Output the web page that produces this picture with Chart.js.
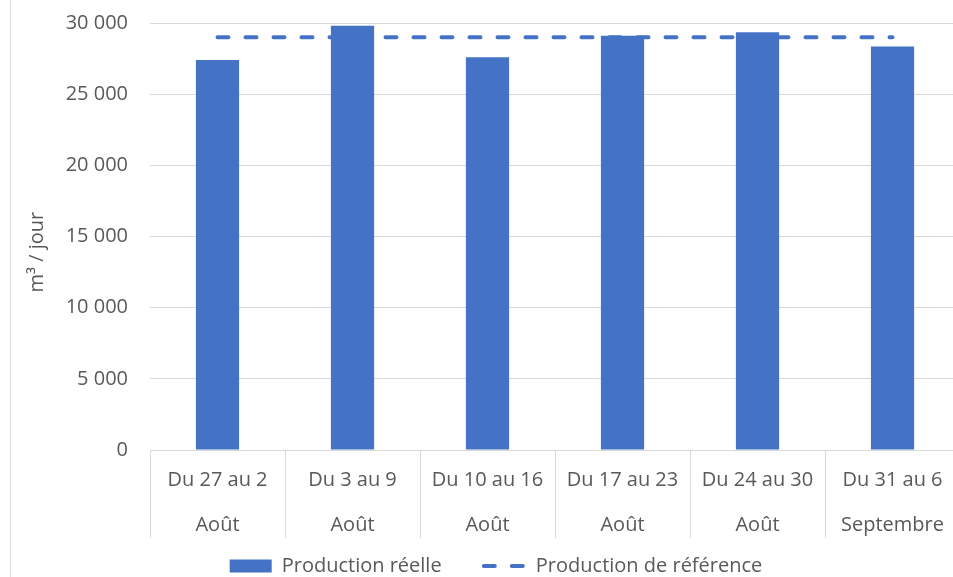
<!DOCTYPE html>
<html lang="fr">
<head>
<meta charset="utf-8">
<title>Production</title>
<script src="https://cdn.jsdelivr.net/npm/chart.js@4.4.1/dist/chart.umd.min.js"></script>
<style>
  html, body { margin: 0; padding: 0; overflow: hidden; background: #fff; }
  #frame { position: absolute; left: 10px; top: 0; width: 970px; height: 577px; border-left: 1px solid #d9d9d9; }
</style>
</head>
<body>
<div id="frame"><canvas id="ProductionChart" width="970" height="577"></canvas></div>
<script>
// Semaines (deux niveaux d'étiquettes)
const weeks = ['Du 27 au 2', 'Du 3 au 9', 'Du 10 au 16', 'Du 17 au 23', 'Du 24 au 30', 'Du 31 au 6'];
const months = ['Août', 'Août', 'Août', 'Août', 'Août', 'Septembre'];

// m³ / jour
const realProduction = [27400, 29800, 27600, 29100, 29350, 28350];
const referenceProduction = [29000, 29000, 29000, 29000, 29000, 29000];

const yTickLabels = ['0', '5 000', '10 000', '15 000', '20 000', '25 000', '30 000'];

const blue = '#4472C4';
const grey = '#d9d9d9';
const nbsp = '\u00a0';

Chart.defaults.font.family = "'Open Sans', sans-serif";
Chart.defaults.font.size = 20;
Chart.defaults.color = '#595959';

const labels = weeks.map((w, i) => [w, months[i]]);

const ctx = document.getElementById('ProductionChart').getContext('2d');
new Chart(ctx, {
    type: 'bar',
    data: {
        labels: labels,
        datasets: [{
            type: 'bar',
            label: 'Production réelle',
            data: realProduction,
            backgroundColor: blue,
            borderWidth: 0,
            barPercentage: 0.32,
            categoryPercentage: 1,
            order: 1
        }, {
            type: 'line',
            label: 'Production de référence',
            data: referenceProduction,
            borderColor: blue,
            backgroundColor: blue,
            borderWidth: 4,
            borderDash: [11, 17],
            borderCapStyle: 'round',
            pointRadius: 0,
            fill: false,
            order: 2
        }]
    },
    options: {
        responsive: false,
        animation: false,
        layout: { padding: { top: 23, right: 21, left: 21, bottom: -9 } },
        plugins: {
            tooltip: { enabled: false },
            legend: {
                position: 'bottom',
                labels: {
                    padding: 11,
                    usePointStyle: true,
                    pointStyleWidth: 42,
                    boxHeight: 13,
                    font: { size: 20 },
                    generateLabels: function(chart) {
                        return chart.data.datasets.map((ds, i) => ({
                            // extra spaces after the first item to widen the gap between entries
                            text: i === 0 ? ds.label + nbsp.repeat(6) : ds.label,
                            datasetIndex: i,
                            fillStyle: blue,
                            strokeStyle: blue,
                            lineWidth: ds.type === 'line' ? 4 : 0,
                            lineDash: ds.type === 'line' ? [11, 17] : [],
                            lineCap: ds.type === 'line' ? 'round' : 'butt',
                            pointStyle: ds.type === 'line' ? 'line' : 'rect',
                            fontColor: '#595959'
                        }));
                    }
                }
            }
        },
        scales: {
            x: {
                offset: true,
                grid: { drawOnChartArea: false, drawTicks: true, tickLength: 88, color: grey, offset: true },
                border: { color: grey },
                ticks: {
                    autoSkip: false,
                    maxRotation: 0,
                    padding: -80,
                    font: { size: 20, lineHeight: 2.25 }
                },
                afterFit: function(scale) { scale.height = 95; }
            },
            y: {
                min: 0,
                max: 30000,
                border: { display: false },
                grid: { color: grey, drawTicks: false },
                ticks: {
                    stepSize: 5000,
                    padding: 22,
                    font: { size: 20 },
                    callback: function(value, index) { return yTickLabels[index]; }
                },
                title: {
                    display: true,
                    text: 'm³ / jour' + nbsp.repeat(6),
                    font: { size: 20 },
                    padding: { top: -7, bottom: 0 }
                },
                afterFit: function(scale) {
                    scale.width = 118;
                    scale.paddingTop = 0;
                    scale.paddingBottom = 0;
                }
            }
        }
    }
});
</script>
</body>
</html>
